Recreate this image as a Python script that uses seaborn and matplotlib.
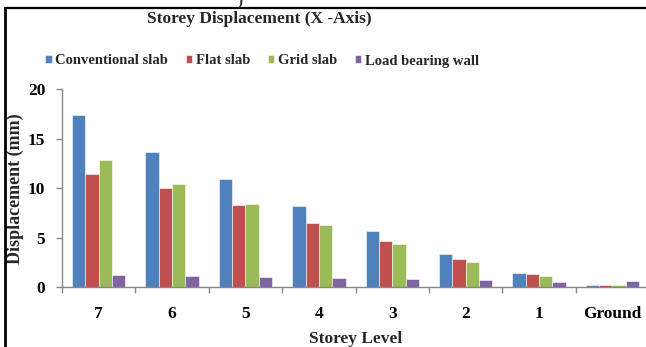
import matplotlib
matplotlib.use("Agg")
import matplotlib.pyplot as plt
from matplotlib.lines import Line2D
import seaborn as sns
import pandas as pd

# Storey displacement values (mm) along the X axis
storeys = ["7", "6", "5", "4", "3", "2", "1", "Ground"]
conventional_slab = [17.4, 13.7, 11.0, 8.25, 5.7, 3.35, 1.5, 0.28]
flat_slab = [11.45, 10.0, 8.3, 6.5, 4.65, 2.9, 1.4, 0.25]
grid_slab = [12.85, 10.45, 8.4, 6.35, 4.35, 2.6, 1.18, 0.22]
load_bearing_wall = [1.3, 1.15, 1.05, 0.93, 0.86, 0.72, 0.55, 0.62]
series_names = ["Conventional slab", "Flat slab", "Grid slab", "Load bearing wall"]
palette = ["#4F81BD", "#C0504D", "#9BBB59", "#8064A2"]

rows = []
for name, vals in zip(series_names,
                      [conventional_slab, flat_slab, grid_slab, load_bearing_wall]):
    for s, v in zip(storeys, vals):
        rows.append({"Storey": s, "Series": name, "Displacement": v})
df = pd.DataFrame(rows)

sns.set_theme(style="white")
plt.rcParams["font.family"] = ["Liberation Serif", "DejaVu Serif"]
plt.rcParams["font.weight"] = "bold"

fig = plt.figure(figsize=(6.46, 3.47), dpi=100)
ax = fig.add_axes([0.096, 0.1715, 0.9087, 0.5706])

sns.barplot(data=df, x="Storey", y="Displacement", hue="Series",
            order=storeys, hue_order=series_names, palette=palette,
            width=0.727, gap=0, saturation=1, errorbar=None,
            edgecolor="white", linewidth=0.4, ax=ax)

ax.set_xlim(-0.5, len(storeys) - 0.5)
ax.set_ylim(0, 20)
ax.set_yticks([0, 5, 10, 15, 20])

for side in ["top", "right"]:
    ax.spines[side].set_visible(False)
for side in ["left", "bottom"]:
    ax.spines[side].set_color("#868686")
    ax.spines[side].set_linewidth(1.0)

# category boundary ticks on the x axis
ax.set_xticks([i - 0.5 for i in range(len(storeys) + 1)], minor=True)
ax.tick_params(axis="x", which="major", length=0, pad=13, labelsize=12.5)
ax.tick_params(axis="x", which="minor", length=4, color="#868686", width=1,
               direction="out", bottom=True)
ax.tick_params(axis="y", which="major", length=4, color="#868686", width=1,
               direction="out", labelsize=12.5, pad=8, left=True)
for lab in ax.get_xticklabels() + ax.get_yticklabels():
    lab.set_fontweight("bold")
    lab.set_color("black")

ax.set_xlabel("Storey Level", fontsize=12.5, fontweight="bold", labelpad=7)
ax.set_ylabel("Displacement (mm)", fontsize=13, fontweight="bold")
ax.yaxis.label.set_verticalalignment("center")
ax.yaxis.set_label_coords(-0.079, 0.5)

ax.legend(loc="center", bbox_to_anchor=(262 / 646, 1 - 61 / 347),
          bbox_transform=fig.transFigure, ncol=4, frameon=False,
          prop={"family": "Liberation Serif", "weight": "bold", "size": 10.5},
          handlelength=0.45, handleheight=0.45, handletextpad=0.25,
          columnspacing=1.2, borderaxespad=0)

fig.text(259 / 646, 1 - 19 / 347, "Storey Displacement (X -Axis)",
         ha="center", va="center", fontsize=12.5, fontweight="bold")

# frame lines around the figure
fig.add_artist(Line2D([5 / 646, 5 / 646], [0, 1 - 8 / 347], color="black", lw=2,
                      transform=fig.transFigure))
fig.add_artist(Line2D([5 / 646, 1], [1 - 8 / 347, 1 - 8 / 347], color="black", lw=1.6,
                      transform=fig.transFigure))
fig.text(240 / 646, 1 - 1 / 347, ")", ha="center", va="center", fontsize=11)

fig.savefig("out.png", dpi=100, facecolor="white")
